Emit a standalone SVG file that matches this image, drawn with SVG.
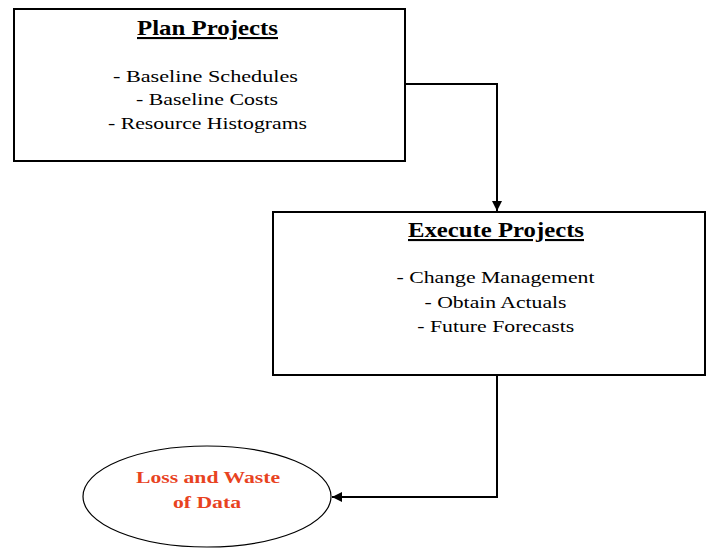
<svg xmlns="http://www.w3.org/2000/svg" width="706" height="548" viewBox="0 0 706 548">
  <style>
    .box { fill: #ffffff; stroke: #000000; stroke-width: 2; }
    .oval { fill: #ffffff; stroke: #000000; stroke-width: 1.2; }
    .title { font-family: "Liberation Serif", serif; font-weight: bold; font-size: 21px; text-anchor: middle; text-decoration: underline; fill: #000000; }
    .item { font-family: "Liberation Serif", serif; font-size: 17px; text-anchor: middle; fill: #000000; }
    .alert { font-family: "Liberation Serif", serif; font-weight: bold; font-size: 17px; text-anchor: middle; fill: #e8431f; }
    .wire { fill: none; stroke: #000000; stroke-width: 2; }
  </style>
  <defs>
    <marker id="arrow" viewBox="0 0 10 10" refX="10" refY="5" markerWidth="5" markerHeight="5" orient="auto" markerUnits="strokeWidth">
      <path d="M0,0 L10,5 L0,10 z" fill="#000000"/>
    </marker>
  </defs>
  <rect width="706" height="548" fill="#ffffff"/>

  <g id="connectors">
    <path class="wire" d="M405,84 H497 V211" marker-end="url(#arrow)"/>
    <path class="wire" d="M497,375 V497 H332" marker-end="url(#arrow)"/>
  </g>

  <g id="plan-projects">
    <rect class="box" x="14" y="9" width="391" height="152"/>
    <text class="title" x="207.5" y="35" textLength="141" lengthAdjust="spacingAndGlyphs">Plan Projects</text>
    <text class="item" x="205.5" y="82" textLength="185" lengthAdjust="spacingAndGlyphs">- Baseline Schedules</text>
    <text class="item" x="207" y="105" textLength="142" lengthAdjust="spacingAndGlyphs">- Baseline Costs</text>
    <text class="item" x="207.5" y="129" textLength="199" lengthAdjust="spacingAndGlyphs">- Resource Histograms</text>
  </g>

  <g id="execute-projects">
    <rect class="box" x="273" y="212" width="432" height="163"/>
    <text class="title" x="496" y="237" textLength="176" lengthAdjust="spacingAndGlyphs">Execute Projects</text>
    <text class="item" x="495.5" y="283" textLength="198" lengthAdjust="spacingAndGlyphs">- Change Management</text>
    <text class="item" x="495.5" y="308" textLength="142" lengthAdjust="spacingAndGlyphs">- Obtain Actuals</text>
    <text class="item" x="495.8" y="332" textLength="157" lengthAdjust="spacingAndGlyphs">- Future Forecasts</text>
  </g>

  <g id="loss-and-waste">
    <ellipse class="oval" cx="207" cy="496.5" rx="124" ry="50.5"/>
    <text class="alert" x="208" y="483" textLength="144" lengthAdjust="spacingAndGlyphs">Loss and Waste</text>
    <text class="alert" x="207" y="508" textLength="68" lengthAdjust="spacingAndGlyphs">of Data</text>
  </g>
</svg>
